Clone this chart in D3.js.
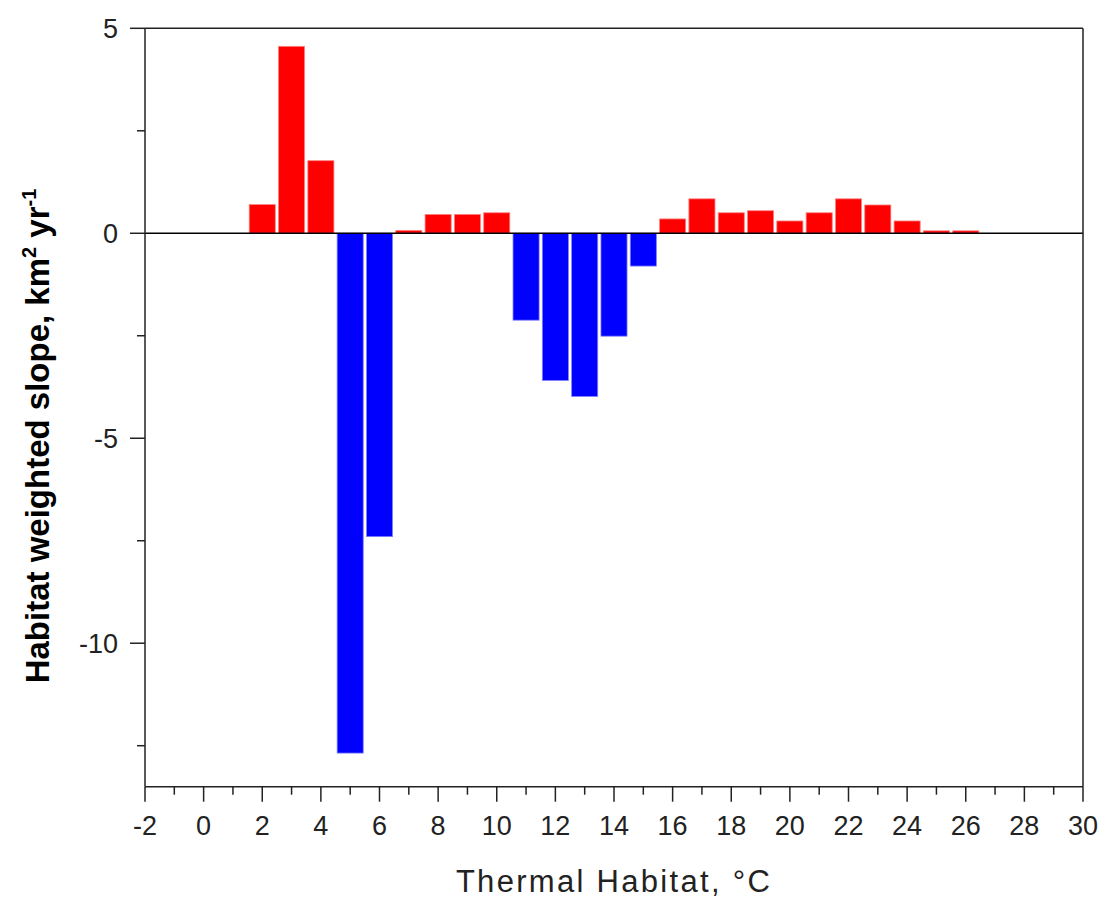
<!DOCTYPE html>
<html><head><meta charset="utf-8">
<script src="https://cdn.jsdelivr.net/npm/d3@7"></script>
<style>body{margin:0;background:#fff}svg{display:block}</style>
</head><body>
<script>
const temps  = [2,3,4,5,6,7,8,9,10,11,12,13,14,15,16,17,18,19,20,21,22,23,24,25,26];
const slopes = [0.70,4.56,1.77,-12.68,-7.40,0.07,0.46,0.46,0.50,-2.12,-3.59,-3.98,-2.51,-0.80,0.35,0.84,0.50,0.55,0.30,0.50,0.84,0.69,0.30,0.06,0.06];
const xTicks = [-2,0,2,4,6,8,10,12,14,16,18,20,22,24,26,28,30];
const yTicks = [5,0,-5,-10];

const W=1105,H=905;
const L=145,R=1083,T=28.3,B=786.7;
const svg=d3.select("body").append("svg").attr("width",W).attr("height",H);
const x=d3.scaleLinear().domain([-2,30]).range([L,R]);
const y=d3.scaleLinear().domain([-13.5,5]).range([B,T]);
const bw=(x(1)-x(0))*0.89;

svg.selectAll("rect.bar").data(temps).join("rect").attr("class","bar")
  .attr("x",(d)=>x(d)-bw/2)
  .attr("y",(d,i)=>y(Math.max(0,slopes[i])))
  .attr("width",bw)
  .attr("height",(d,i)=>Math.abs(y(slopes[i])-y(0)))
  .attr("fill",(d,i)=>slopes[i]>=0?"#ff0000":"#0000ff")
  .attr("stroke",(d,i)=>slopes[i]>=0?"#ff8080":"#8080ff").attr("stroke-width",0.8);

// zero line
svg.append("line").attr("x1",L).attr("x2",R).attr("y1",y(0)).attr("y2",y(0)).attr("stroke","#000").attr("stroke-width",1.5);
// frame top/right
svg.append("line").attr("x1",L).attr("x2",R).attr("y1",T).attr("y2",T).attr("stroke","#222").attr("stroke-width",1.5);
svg.append("line").attr("x1",R).attr("x2",R).attr("y1",T).attr("y2",B).attr("stroke","#222").attr("stroke-width",1.5);

const fontTick="'Liberation Sans', Arial, sans-serif";
const gx=svg.append("g").attr("transform",`translate(0,${B})`);
gx.append("line").attr("x1",L).attr("x2",R).attr("stroke","#222").attr("stroke-width",1.5);
gx.selectAll("line.t").data(d3.range(-2,31,1)).join("line").attr("class","t")
  .attr("x1",d=>x(d)).attr("x2",d=>x(d)).attr("y1",0).attr("y2",d=>xTicks.includes(d)?15:8)
  .attr("stroke","#222").attr("stroke-width",1.5);
gx.selectAll("text").data(xTicks).join("text")
  .attr("x",d=>x(d)).attr("y",48).attr("text-anchor","middle")
  .attr("font-family",fontTick).attr("font-size",27).attr("fill","#222").text(d=>d);

const gy=svg.append("g").attr("transform",`translate(${L},0)`);
gy.append("line").attr("y1",T).attr("y2",B).attr("stroke","#222").attr("stroke-width",1.5);
gy.selectAll("line.t").data([5,2.5,0,-2.5,-5,-7.5,-10,-12.5]).join("line").attr("class","t")
  .attr("y1",d=>y(d)).attr("y2",d=>y(d)).attr("x1",0).attr("x2",d=>yTicks.includes(d)?-15:-8)
  .attr("stroke","#222").attr("stroke-width",1.5);
gy.selectAll("text").data(yTicks).join("text")
  .attr("x",-27).attr("y",d=>y(d)).attr("dy","0.36em").attr("text-anchor","end")
  .attr("font-family",fontTick).attr("font-size",27).attr("fill","#222").text(d=>d);

svg.append("text").attr("x",614).attr("y",892).attr("text-anchor","middle")
  .attr("font-family",fontTick).attr("font-size",31).attr("fill","#222")
  .attr("letter-spacing",2.3)
  .text("Thermal Habitat, °C");

const yt=svg.append("text").attr("transform","translate(49,436) rotate(-90)").attr("text-anchor","middle")
  .attr("font-family",fontTick).attr("font-size",33).attr("font-weight","bold").attr("fill","#000");
yt.append("tspan").text("Habitat weighted slope, km");
yt.append("tspan").attr("font-size",20).attr("dy",-13).text("2");
yt.append("tspan").attr("dy",13).text(" yr");
yt.append("tspan").attr("font-size",20).attr("dy",-13).text("-1");
</script>
</body></html>
